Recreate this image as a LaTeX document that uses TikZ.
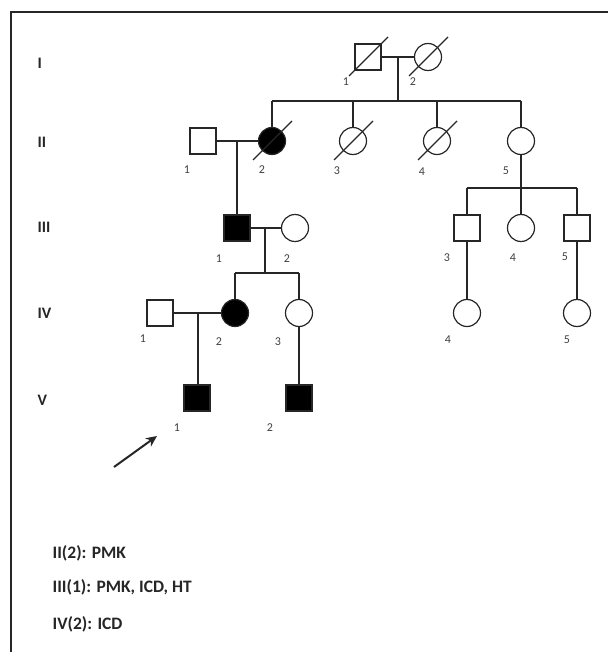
\documentclass[tikz,border=0pt]{standalone}
\usepackage{fontspec}
\setmainfont{Carlito}
\usetikzlibrary{arrows.meta}
\begin{document}
\begin{tikzpicture}[x=1pt,y=-1pt,
  line width=1.2pt, draw=black!85,
  male/.style={draw=black!85,rectangle,minimum size=26pt,inner sep=0pt},
  female/.style={draw=black!85,circle,minimum size=27pt,inner sep=0pt},
  aff/.style={fill=black},
  num/.style={font=\fontsize{12}{14}\selectfont,text=black!75,inner sep=0pt},
  gen/.style={font=\fontsize{16}{18}\selectfont\bfseries,text=black!85,anchor=west,inner sep=0pt},
  leg/.style={font=\fontsize{17.5}{20}\selectfont\bfseries,text=black!85,anchor=west,inner sep=0pt},
  conn/.style={draw=black!85,line width=1.2pt},
  dead/.style={draw=black!85,line width=1.2pt}]
\useasboundingbox (0,0) rectangle (608,652);
% frame (left and top edges visible)
\draw[line width=1.4pt,black!85] (11,652) -- (11,12) -- (608,12);

% generation labels
\node[gen] (gI) at (37,63) {I};
\node[gen] (gII) at (37,142) {II};
\node[gen] (gIII) at (37,227) {III};
\node[gen] (gIV) at (37,313) {IV};
\node[gen] (gV) at (37,400) {V};

% Generation I
\node[male] (I1) at (368,57) {};
\node[female] (I2) at (428,57) {};
% Generation II
\node[male] (II1) at (203,141) {};
\node[female,aff] (II2) at (272,141) {};
\node[female] (II3) at (353,141) {};
\node[female] (II4) at (437,141) {};
\node[female] (II5) at (521,141) {};
% Generation III
\node[male,aff] (III1) at (237,228) {};
\node[female] (III2) at (295,228) {};
\node[male] (III3) at (467,228) {};
\node[female] (III4) at (521,228) {};
\node[male] (III5) at (577,228) {};
% Generation IV
\node[male] (IV1) at (160,313) {};
\node[female,aff] (IV2) at (235,313) {};
\node[female] (IV3) at (299,313) {};
\node[female] (IV4) at (467,313) {};
\node[female] (IV5) at (577,313) {};
% Generation V
\node[male,aff] (V1) at (197,398) {};
\node[male,aff] (V2) at (299,398) {};

% deceased slashes
\foreach \n in {I1,I2,II2,II3,II4}{
  \draw[dead] ([shift={(-19,19)}]\n.center) -- ([shift={(20,-20)}]\n.center);
}

% coordinates for connectors
\coordinate (mI) at (398,57);
\coordinate (sI) at (398,101);
\coordinate (mII) at (237,141);
\coordinate (sII5) at (521,188);
\coordinate (mIII) at (265,228);
\coordinate (sIII) at (265,273);
\coordinate (mIV) at (198,313);

% Generation I family
\draw[conn] (I1.east) -- (I2.west);
\draw[conn] (mI) -- (sI);
\draw[conn] (sI -| II2) -- (sI -| II5);
\foreach \n in {II2,II3,II4,II5}{ \draw[conn] (sI -| \n) -- (\n.north); }

% II1 x II2
\draw[conn] (II1.east) -- (II2.west);
\draw[conn] (mII) -- (III1.north);

% II5 children
\draw[conn] (II5.south) -- (III4.north);
\draw[conn] (sII5 -| III3) -- (sII5 -| III5);
\draw[conn] (sII5 -| III3) -- (III3.north);
\draw[conn] (sII5 -| III5) -- (III5.north);
\draw[conn] (III3.south) -- (IV4.north);
\draw[conn] (III5.south) -- (IV5.north);

% III1 x III2
\draw[conn] (III1.east) -- (III2.west);
\draw[conn] (mIII) -- (sIII);
\draw[conn] (sIII -| IV2) -- (sIII -| IV3);
\draw[conn] (sIII -| IV2) -- (IV2.north);
\draw[conn] (sIII -| IV3) -- (IV3.north);

% IV1 x IV2
\draw[conn] (IV1.east) -- (IV2.west);
\draw[conn] (mIV) -- (mIV |- V1.north);
\draw[conn] (IV3.south) -- (V2.north);

% number labels
\node[num] (nI1) at (346,82) {1};
\node[num] (nI2) at (413,82) {2};
\node[num] (nII1) at (187,170) {1};
\node[num] (nII2) at (262,170) {2};
\node[num] (nII3) at (337,171) {3};
\node[num] (nII4) at (422,172) {4};
\node[num] (nII5) at (506,171) {5};
\node[num] (nIII1) at (219,259) {1};
\node[num] (nIII2) at (287,259) {2};
\node[num] (nIII3) at (447,258) {3};
\node[num] (nIII4) at (513,258) {4};
\node[num] (nIII5) at (565,257) {5};
\node[num] (nIV1) at (143,339) {1};
\node[num] (nIV2) at (219,342) {2};
\node[num] (nIV3) at (278,342) {3};
\node[num] (nIV4) at (448,340) {4};
\node[num] (nIV5) at (567,340) {5};
\node[num] (nV1) at (177,428) {1};
\node[num] (nV2) at (270,428) {2};

% proband arrow
\coordinate (pa) at (114,467);
\coordinate (pb) at (157,436);
\draw[conn,line width=2pt,-{Stealth[length=11pt,width=10pt]}] (pa) -- (pb);

% legend
\node[leg] (L1) at (52,553) {II(2): PMK};
\node[leg] (L2) at (52,587) {III(1): PMK, ICD, HT};
\node[leg] (L3) at (52,624) {IV(2): ICD};
\end{tikzpicture}
\end{document}
